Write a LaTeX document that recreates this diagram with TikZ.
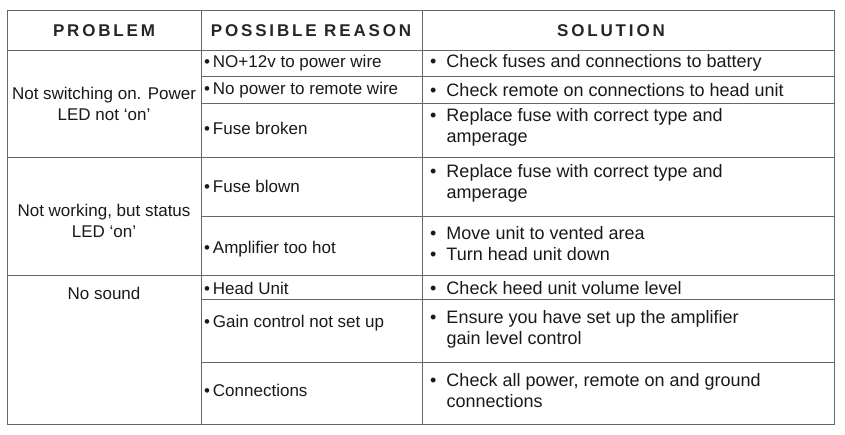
\documentclass[tikz,border=0pt]{standalone}
\usepackage{fontspec}
\setmainfont{Liberation Sans}
\usetikzlibrary{calc}

\begin{document}
\begin{tikzpicture}[x=1pt,y=-1pt,
    rule/.style={draw=black!60, line width=0.9pt},
    head/.style={font=\fontsize{17}{19}\selectfont\bfseries, text=black!85},
    cell/.style={font=\fontsize{17}{21}\selectfont, align=center, text=black!90},
    item/.style={font=\fontsize{17}{21}\selectfont, anchor=west, align=left, text=black!90, inner sep=0},
    sitem/.style={item, font=\fontsize{18}{21}\selectfont}]
    \useasboundingbox (0,0) rectangle (845,434);
    % frame and columns
    \draw[rule] (7,10) rectangle (834,424);
    \draw[rule] (201,10) -- (201,424);
    \draw[rule] (422,10) -- (422,424);
    \draw[rule] (7,50) -- (834,50);
    \foreach \y in {157,275} \draw[rule] (7,\y) -- (834,\y);
    \foreach \y in {76,103,216,299,362} \draw[rule] (201,\y) -- (834,\y);

    % header
    \node[head] (hprob) at (104,31) {P\,R\,O\,B\,L\,E\,M};
    \node[head] (hreas) at (311,31) {P\,O\,S\,S\,I\,B\,L\,E\, R\,E\,A\,S\,O\,N};
    \node[head] (hsol) at (611,31) {S\,O\,L\,U\,T\,I\,O\,N};

    % problems
    \node[cell] (p1) at (104,104) {Not switching on. Power\\LED not `on'};
    \node[cell] (p2) at (104,221) {Not working, but status\\LED `on'};
    \node[cell] (p3) at (104,293) {No sound};

    % reasons
    \node[item] (r1) at (204,63) {\textbullet\,NO+12v to power wire};
    \node[item] (r2) at (204,90) {\textbullet\,No power to remote wire};
    \node[item] (r3) at (204,128) {\textbullet\,Fuse broken};
    \node[item] (r4) at (204,186) {\textbullet\,Fuse blown};
    \node[item] (r5) at (204,249) {\textbullet\,Amplifier too hot};
    \node[item] (r6) at (204,288) {\textbullet\,Head Unit};
    \node[item] (r7) at (204,323) {\textbullet\,Gain control not set up};
    \node[item] (r8) at (204,390) {\textbullet\,Connections};

    % solutions
    \node[sitem] (s1) at (430,63) {\textbullet\ \ Check fuses and connections to battery};
    \node[sitem] (s2) at (430,90) {\textbullet\ \ Check remote on connections to head unit};
    \node[sitem] (s3) at (430,127) {\textbullet\ \ Replace fuse with correct type and\\\phantom{\textbullet\ \ }amperage};
    \node[sitem] (s4) at (430,183) {\textbullet\ \ Replace fuse with correct type and\\\phantom{\textbullet\ \ }amperage};
    \node[sitem] (s5) at (430,244) {\textbullet\ \ Move unit to vented area\\\textbullet\ \ Turn head unit down};
    \node[sitem] (s6) at (430,288) {\textbullet\ \ Check heed unit volume level};
    \node[sitem] (s7) at (430,329) {\textbullet\ \ Ensure you have set up the amplifier\\\phantom{\textbullet\ \ }gain level control};
    \node[sitem] (s8) at (430,391) {\textbullet\ \ Check all power, remote on and ground\\\phantom{\textbullet\ \ }connections};
\end{tikzpicture}
\end{document}
